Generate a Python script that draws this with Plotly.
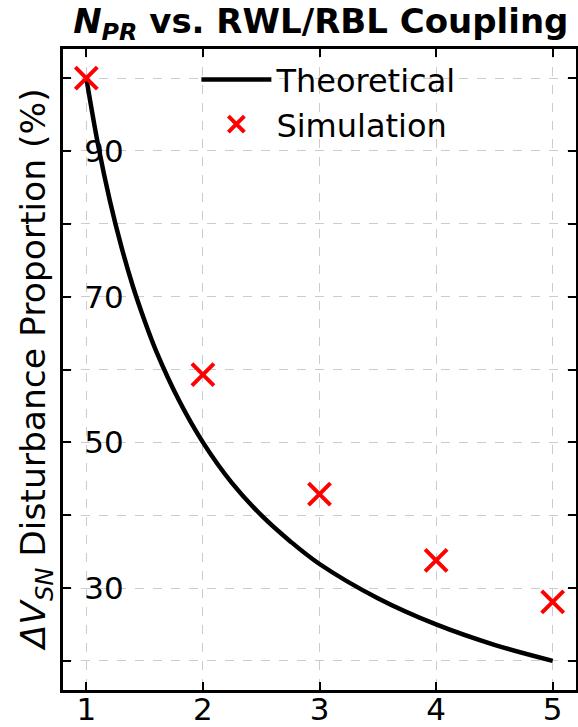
import plotly.graph_objects as go

# Theoretical curve
theo_x = [1, 1.1, 1.2, 1.3, 1.4, 1.5, 1.6, 1.8, 2.0, 2.25, 2.5, 2.75, 3.0, 3.5, 4.0, 4.5, 5.0]
theo_y = [100, 90.9, 83.3, 76.9, 71.4, 66.7, 62.5, 55.6, 50.0, 44.4, 40.0, 36.4, 33.3, 28.6, 25.0, 22.2, 20.0]

# Simulation points
sim_x = [1, 2, 3, 4, 5]
sim_y = [100, 59.3, 42.9, 33.8, 28.1]

x_ticks = [1, 2, 3, 4, 5]
y_ticks = [20, 30, 40, 50, 60, 70, 80, 90, 100]
y_ticktext = ["", "30", "", "50", "", "70", "", "90", ""]

FONT = "DejaVu Sans"

fig = go.Figure()
fig.add_trace(go.Scatter(x=theo_x, y=theo_y, mode="lines", name="Theoretical",
                         line=dict(color="black", width=4.5, shape="spline")))
fig.add_trace(go.Scatter(x=sim_x, y=sim_y, mode="markers", name="Simulation",
                         marker=dict(symbol="x-thin", size=22, color="red",
                                     line=dict(color="red", width=4))))

axis_common = dict(showline=True, linecolor="black", linewidth=3, mirror="ticks",
                   ticks="inside", ticklen=8, tickwidth=2, tickcolor="black",
                   showgrid=True, gridcolor="#cccccc", gridwidth=1, griddash="dash",
                   zeroline=False, automargin=False,
                   tickfont=dict(family=FONT, size=31, color="black"))

fig.update_xaxes(range=[0.8, 5.2], tickvals=x_ticks, ticklabelstandoff=-10, **axis_common)
fig.update_yaxes(range=[16, 104], tickvals=y_ticks, ticktext=y_ticktext,
                 ticklabelposition="outside", ticklabelstandoff=-70,
                 **axis_common)

fig.add_annotation(text="<i>ΔV</i><sub><i>SN</i></sub> Disturbance Proportion (%)",
                   textangle=-90, xref="paper", yref="paper", x=-0.053, y=0.5,
                   xanchor="center", yanchor="middle", showarrow=False,
                   font=dict(family=FONT, size=34.5, color="black"))

fig.update_layout(
    width=578, height=727,
    margin=dict(l=63, r=2, t=49, b=37),
    paper_bgcolor="white", plot_bgcolor="white",
    title=dict(text="<b><i>N</i><sub><i>PR</i></sub> vs. RWL/RBL Coupling</b>",
               font=dict(family=FONT, size=34, color="black"),
               x=0.555, xanchor="center", y=0.988, yanchor="top"),
    legend=dict(x=0.26, y=0.995, xanchor="left", yanchor="top",
                bgcolor="rgba(0,0,0,0)", font=dict(family=FONT, size=32, color="black"),
                tracegroupgap=0, itemwidth=70),
    showlegend=True,
)

fig.write_html("out.html")
